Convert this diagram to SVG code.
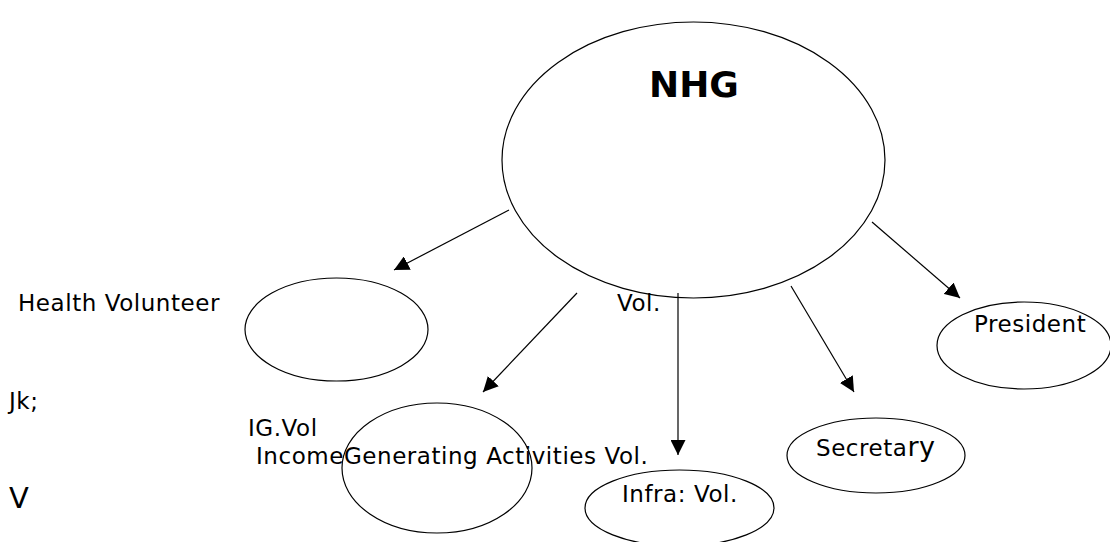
<svg xmlns="http://www.w3.org/2000/svg" width="1110" height="542" viewBox="0 0 1110 542">
<style>
.n{fill:none;stroke:#000;stroke-width:1.2}
.t{font-family:"DejaVu Sans",sans-serif;font-size:23px;letter-spacing:0.55px;fill:#000}
.c{stroke:#000;stroke-width:1.2;fill:none}
</style>
<defs>
<marker id="ah" viewBox="0 0 15 15" refX="15" refY="7.5" markerWidth="15" markerHeight="15" markerUnits="userSpaceOnUse" orient="auto">
<path d="M0,0 L15,7.5 L0,15 Z" fill="#000"/>
</marker>
</defs>
<rect width="1110" height="542" fill="#fff"/>
<g id="nhg">
<ellipse class="n" cx="693.5" cy="160" rx="191.5" ry="138"/>
<text x="694" y="97" text-anchor="middle" style="font-family:'DejaVu Sans',sans-serif;font-size:36px;font-weight:bold">NHG</text>
</g>
<g id="health">
<ellipse class="n" cx="336.5" cy="329.5" rx="91.5" ry="51.5"/>
<text class="t" x="18" y="311">Health Volunteer</text>
</g>
<g id="income">
<ellipse class="n" cx="437" cy="468" rx="95" ry="65"/>
<text class="t" x="248" y="436">IG.Vol</text>
<text class="t" x="256" y="464">IncomeGenerating Activities Vol.</text>
</g>
<g id="infra">
<ellipse class="n" cx="679.5" cy="508" rx="94.5" ry="38"/>
<text class="t" x="622" y="502">Infra: Vol.</text>
</g>
<g id="secretary">
<ellipse class="n" cx="876" cy="455.5" rx="89" ry="37.5"/>
<text class="t" x="816" y="456">Secreta<tspan style="font-size:27px">ry</tspan></text>
</g>
<g id="president">
<ellipse class="n" cx="1024" cy="345.5" rx="87" ry="43.5"/>
<text class="t" x="974" y="332">President</text>
</g>
<g id="labels">
<text class="t" x="617" y="311">Vol.</text>
<text class="t" x="9" y="409">Jk;</text>
<text class="t" x="9" y="508" style="font-size:29px">V</text>
</g>
<g id="connectors">
<line class="c" x1="509" y1="210" x2="394" y2="270" marker-end="url(#ah)"/>
<line class="c" x1="577" y1="293" x2="483" y2="392" marker-end="url(#ah)"/>
<line class="c" x1="678" y1="293" x2="678" y2="455" marker-end="url(#ah)"/>
<line class="c" x1="791" y1="286" x2="854" y2="392" marker-end="url(#ah)"/>
<line class="c" x1="872" y1="222" x2="960" y2="298" marker-end="url(#ah)"/>
</g>
</svg>
